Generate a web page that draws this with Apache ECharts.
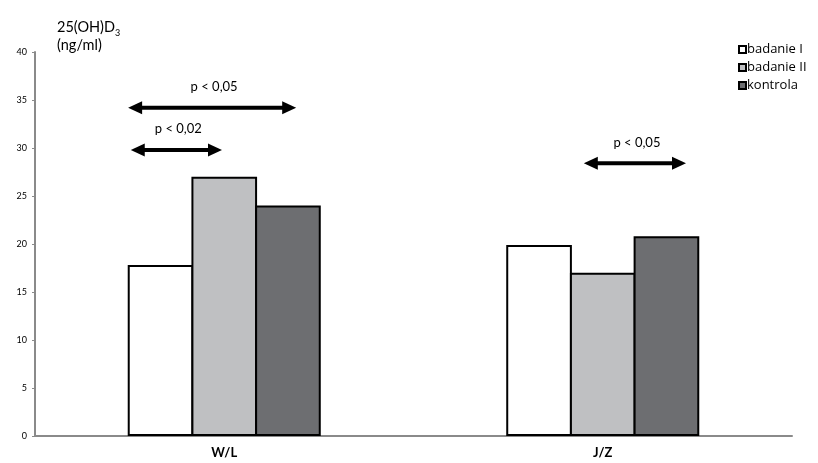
<!DOCTYPE html>
<html><head><meta charset="utf-8">
<script src="https://cdn.jsdelivr.net/npm/echarts@6/dist/echarts.min.js"></script>
<style>html,body{margin:0;padding:0;background:#fff}#c{width:818px;height:463px}</style>
</head><body><div id="c"></div>
<script>
var categories = ['W/L', 'J/Z'];
var seriesNames = ['badanie I', 'badanie II', 'kontrola'];
var badanieI = [17.8, 19.9];
var badanieII = [27.0, 17.0];
var kontrola = [24.0, 20.8];
var yTicks = [0, 5, 10, 15, 20, 25, 30, 35, 40];
// significance arrows: [x start, x end, y value, label]  (x in category units, 0..2)
var arrowX1 = [0.246, 0.253, 1.45];
var arrowX2 = [0.690, 0.494, 1.72];
var arrowY = [34.2, 29.8, 28.4];
var arrowLabels = ['p < 0,05', 'p < 0,02', 'p < 0,05'];

var colors = ['#ffffff', '#bfc0c2', '#6d6e71'];
var font = 'Lato, "Open Sans", sans-serif';
var chart = echarts.init(document.getElementById('c'));
var arrowData = arrowY.map(function (y, i) { return [arrowX1[i], arrowX2[i], y, arrowLabels[i]]; });

function mkBar(name, data, color) {
  return {
    name: name, type: 'bar', data: data, barGap: '-3%', barCategoryGap: '49%',
    itemStyle: { color: color, borderColor: '#000', borderWidth: 2 },
    emphasis: { disabled: true }
  };
}

chart.setOption({
  animation: false,
  textStyle: { fontFamily: font },
  grid: { left: 35, right: 26, top: 52, bottom: 27, containLabel: false },
  graphic: [
    { type: 'text', x: 57, y: 20, style: { text: '25(OH)D', fontSize: 14.5, fontFamily: font, fill: '#000', verticalAlign: 'top', align: 'left' } },
    { type: 'text', x: 115, y: 29, style: { text: '3', fontSize: 9, fontFamily: font, fill: '#000', verticalAlign: 'top', align: 'left' } },
    { type: 'text', x: 57, y: 38, style: { text: '(ng/ml)', fontSize: 14.5, fontFamily: font, fill: '#000', verticalAlign: 'top', align: 'left' } }
  ],
  legend: {
    orient: 'vertical', left: 733, top: 38, itemWidth: 7, itemHeight: 7, itemGap: 5,
    icon: 'rect', selectedMode: false,
    textStyle: { fontSize: 13, fontFamily: '"Open Sans", sans-serif', color: '#000', padding: [0, 0, 0, -4] },
    data: seriesNames
  },
  xAxis: [{
    type: 'category', data: categories,
    axisLine: { lineStyle: { color: '#8a8a8a', width: 2 } },
    axisTick: { show: false },
    axisLabel: { fontSize: 13, fontWeight: 'bold', color: '#000', margin: 10, fontFamily: font }
  }, {
    type: 'value', min: 0, max: 2, show: false
  }],
  yAxis: {
    type: 'value', min: 0, max: 40, interval: 5,
    axisLine: { show: true, lineStyle: { color: '#8a8a8a', width: 2 } },
    axisTick: { show: true, length: 3, lineStyle: { color: '#8a8a8a' } },
    splitLine: { show: false },
    axisLabel: { fontSize: 9, color: '#000', margin: 8,
      formatter: function (v) { return yTicks.indexOf(v) >= 0 ? String(v) : ''; } }
  },
  series: [
    mkBar(seriesNames[0], badanieI, colors[0]),
    mkBar(seriesNames[1], badanieII, colors[1]),
    mkBar(seriesNames[2], kontrola, colors[2]),
    {
      type: 'custom', xAxisIndex: 1, data: arrowData, silent: true,
      renderItem: function (params, api) {
        var p1 = api.coord([api.value(0), api.value(2)]);
        var p2 = api.coord([api.value(1), api.value(2)]);
        var y = p1[1], hl = 14, hw = 6.5;
        var label = arrowLabels[params.dataIndex];
        return {
          type: 'group', children: [
            { type: 'line', shape: { x1: p1[0] + hl - 2, y1: y, x2: p2[0] - hl + 2, y2: y },
              style: { stroke: '#000', lineWidth: 4 } },
            { type: 'polygon', shape: { points: [[p1[0], y], [p1[0] + hl, y - hw], [p1[0] + hl, y + hw]] },
              style: { fill: '#000' } },
            { type: 'polygon', shape: { points: [[p2[0], y], [p2[0] - hl, y - hw], [p2[0] - hl, y + hw]] },
              style: { fill: '#000' } },
            { type: 'text', style: { text: label, x: (p1[0] + p2[0]) / 2 + 2, y: y - 21,
              align: 'center', verticalAlign: 'middle', fontSize: 13, fontFamily: font, fill: '#000' } }
          ]
        };
      }
    }
  ]
});
</script></body></html>
